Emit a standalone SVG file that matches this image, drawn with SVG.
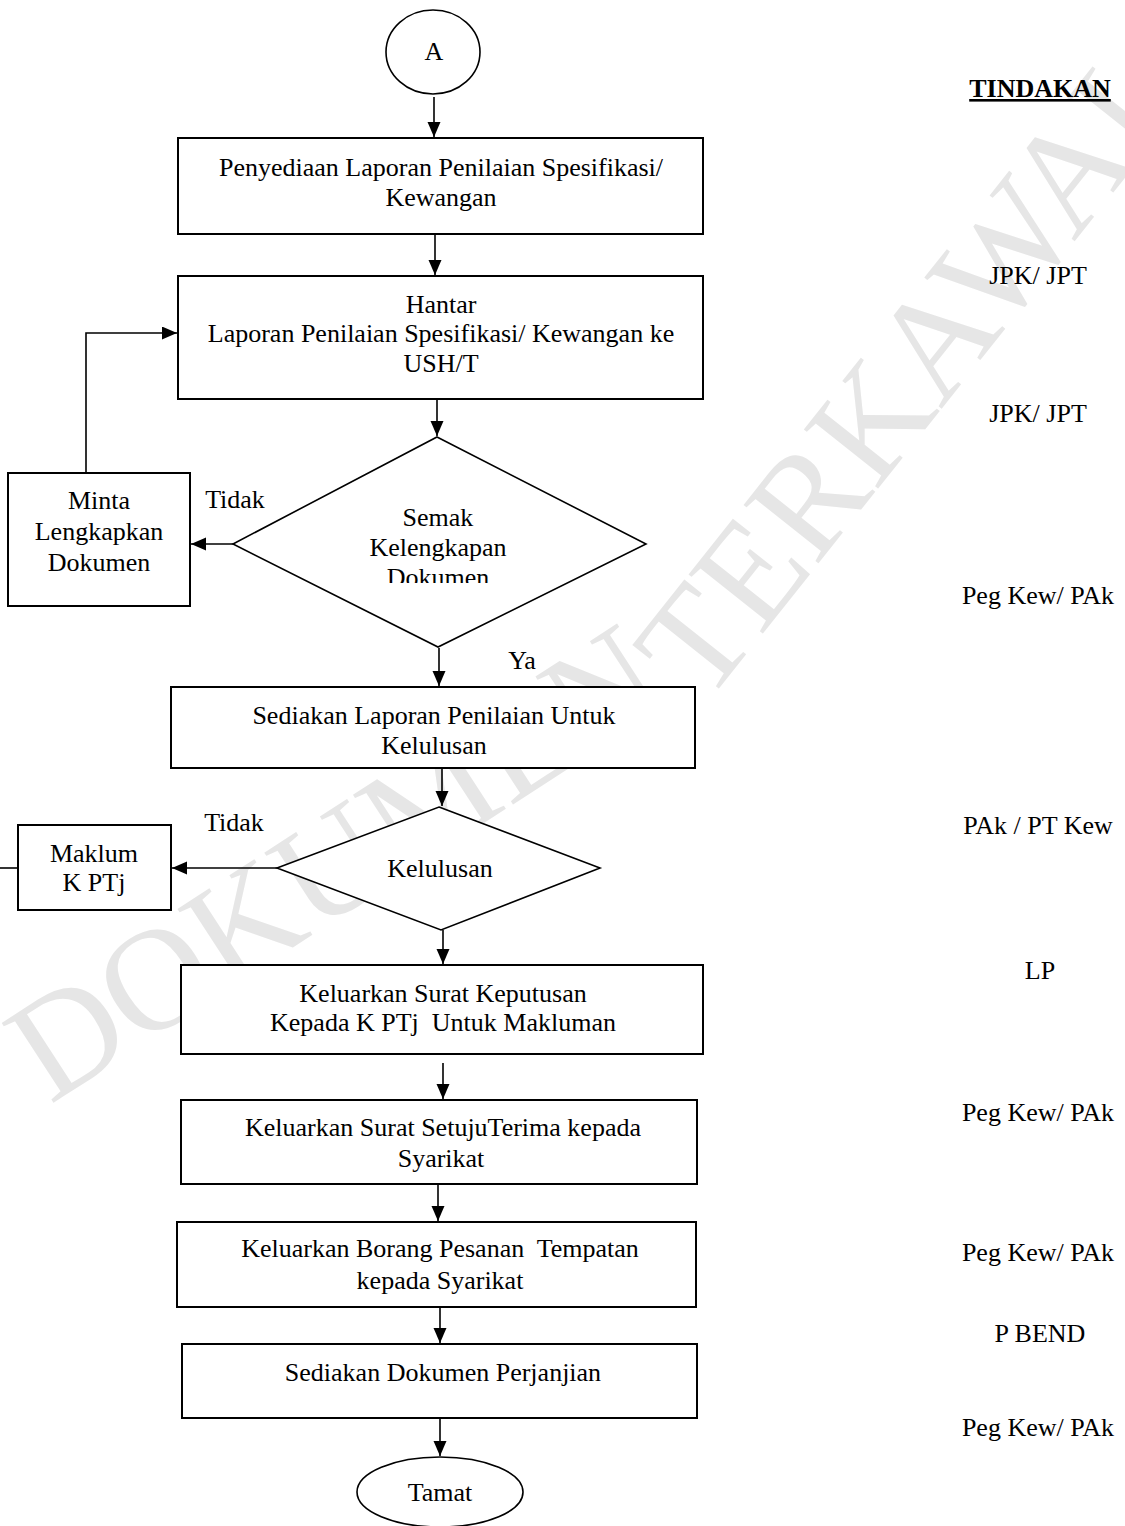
<svg xmlns="http://www.w3.org/2000/svg" width="1125" height="1526" viewBox="0 0 1125 1526">
<defs>
<style>
.box{fill:#fff;stroke:#000;stroke-width:2}
.dia{fill:#fff;stroke:#000;stroke-width:1.6}
.t{font-family:"Liberation Serif","Times New Roman",serif;font-size:26px;fill:#000;text-anchor:middle}
.r{font-family:"Liberation Serif","Times New Roman",serif;font-size:26px;fill:#000;text-anchor:middle}
.c{fill:none;stroke:#000;stroke-width:1.6}
.wm{font-family:"Liberation Serif","Times New Roman",serif;font-size:145px;fill:#e6e6e6}
</style>
<marker id="ah" markerUnits="userSpaceOnUse" markerWidth="16" markerHeight="14" refX="15" refY="6.5" orient="auto">
<path d="M0,0 L15,6.5 L0,13 z" fill="#000"/>
</marker>
<clipPath id="clipD1"><rect x="230" y="430" width="420" height="153"/></clipPath>
</defs>
<rect width="1125" height="1526" fill="#fff"/>
<g id="watermark">
<text class="wm" transform="translate(50,1105) rotate(-33)">DOKUMEN</text>
<text class="wm" transform="translate(705,706) rotate(-51.5)">TERKAWAL</text>
</g>
<g id="connectors">
<line class="c" x1="434" y1="97" x2="434" y2="137" marker-end="url(#ah)"/>
<line class="c" x1="435" y1="234" x2="435" y2="275" marker-end="url(#ah)"/>
<line class="c" x1="437" y1="399" x2="437" y2="436" marker-end="url(#ah)"/>
<line class="c" x1="245" y1="544" x2="191" y2="544" marker-end="url(#ah)"/>
<path class="c" d="M86,473 V333 H177" marker-end="url(#ah)"/>
<line class="c" x1="439" y1="648" x2="439" y2="686" marker-end="url(#ah)"/>
<line class="c" x1="442" y1="768" x2="442" y2="806" marker-end="url(#ah)"/>
<line class="c" x1="277" y1="868" x2="172" y2="868" marker-end="url(#ah)"/>
<line class="c" x1="443" y1="930" x2="443" y2="964" marker-end="url(#ah)"/>
<line class="c" x1="443" y1="1063" x2="443" y2="1099" marker-end="url(#ah)"/>
<line class="c" x1="438" y1="1184" x2="438" y2="1221" marker-end="url(#ah)"/>
<line class="c" x1="440" y1="1307" x2="440" y2="1343" marker-end="url(#ah)"/>
<line class="c" x1="440" y1="1418" x2="440" y2="1456" marker-end="url(#ah)"/>
<line class="c" x1="0" y1="868" x2="18" y2="868"/>
<text class="t" x="235" y="508">Tidak</text>
<text class="t" x="522" y="669">Ya</text>
<text class="t" x="234" y="831">Tidak</text>
</g>
<g id="start">
<ellipse cx="433" cy="52" rx="47" ry="42" fill="#fff" stroke="#000" stroke-width="1.6"/>
<text class="t" x="434" y="60">A</text>
</g>
<g id="n1">
<rect class="box" x="178" y="138" width="525" height="96"/>
<text class="t" x="441" y="176">Penyediaan Laporan Penilaian Spesifikasi/</text>
<text class="t" x="441" y="206">Kewangan</text>
</g>
<g id="n2">
<rect class="box" x="178" y="276" width="525" height="123"/>
<text class="t" x="441" y="313">Hantar</text>
<text class="t" x="441" y="342">Laporan Penilaian Spesifikasi/ Kewangan ke</text>
<text class="t" x="441" y="372">USH/T</text>
</g>
<g id="d1">
<polygon class="dia" points="437,437 646,544 438,647 233,544"/>
<g clip-path="url(#clipD1)">
<text class="t" x="438" y="526">Semak</text>
<text class="t" x="438" y="556">Kelengkapan</text>
<text class="t" x="438" y="586">Dokumen</text>
</g>
</g>
<g id="minta">
<rect class="box" x="8" y="473" width="182" height="133"/>
<text class="t" x="99" y="509">Minta</text>
<text class="t" x="99" y="540">Lengkapkan</text>
<text class="t" x="99" y="571">Dokumen</text>
</g>
<g id="n3">
<rect class="box" x="171" y="687" width="524" height="81"/>
<text class="t" x="434" y="724">Sediakan Laporan Penilaian Untuk</text>
<text class="t" x="434" y="754">Kelulusan</text>
</g>
<g id="d2">
<polygon class="dia" points="439,807 600,868 441,930 277,868"/>
<text class="t" x="440" y="877">Kelulusan</text>
</g>
<g id="maklum">
<rect class="box" x="18" y="825" width="153" height="85"/>
<text class="t" x="94" y="862">Maklum</text>
<text class="t" x="94" y="891">K PTj</text>
</g>
<g id="n4">
<rect class="box" x="181" y="965" width="522" height="89"/>
<text class="t" x="443" y="1002">Keluarkan Surat Keputusan</text>
<text class="t" x="443" y="1031" xml:space="preserve">Kepada K PTj  Untuk Makluman</text>
</g>
<g id="n5">
<rect class="box" x="181" y="1100" width="516" height="84"/>
<text class="t" x="443" y="1136">Keluarkan Surat SetujuTerima kepada</text>
<text class="t" x="441" y="1167">Syarikat</text>
</g>
<g id="n6">
<rect class="box" x="177" y="1222" width="519" height="85"/>
<text class="t" x="440" y="1257" xml:space="preserve">Keluarkan Borang Pesanan  Tempatan</text>
<text class="t" x="440" y="1289">kepada Syarikat</text>
</g>
<g id="n7">
<rect class="box" x="182" y="1344" width="515" height="74"/>
<text class="t" x="443" y="1381">Sediakan Dokumen Perjanjian</text>
</g>
<g id="end">
<ellipse cx="440" cy="1492" rx="83" ry="35" fill="#fff" stroke="#000" stroke-width="1.6"/>
<text class="t" x="440" y="1501">Tamat</text>
</g>
<g id="tindakan">
<text class="r" x="1040" y="97" font-weight="bold" text-decoration="underline">TINDAKAN</text>
<text class="r" x="1038" y="284">JPK/ JPT</text>
<text class="r" x="1038" y="422">JPK/ JPT</text>
<text class="r" x="1038" y="604">Peg Kew/ PAk</text>
<text class="r" x="1038" y="834">PAk / PT Kew</text>
<text class="r" x="1040" y="979">LP</text>
<text class="r" x="1038" y="1121">Peg Kew/ PAk</text>
<text class="r" x="1038" y="1261">Peg Kew/ PAk</text>
<text class="r" x="1040" y="1342">P BEND</text>
<text class="r" x="1038" y="1436">Peg Kew/ PAk</text>
</g>
</svg>
